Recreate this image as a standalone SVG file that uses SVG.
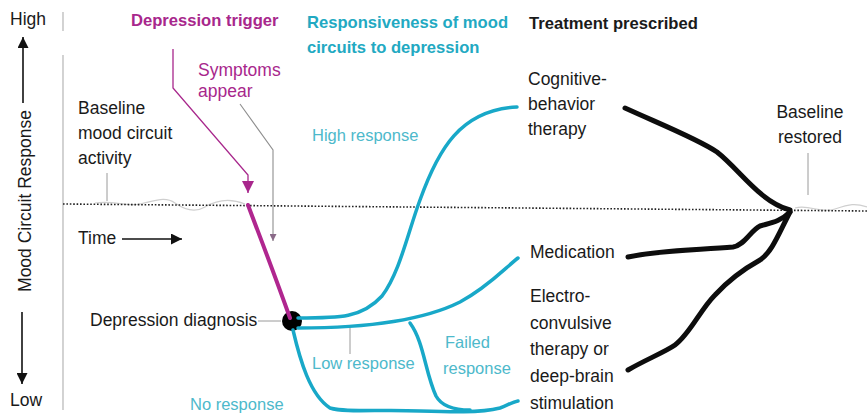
<svg xmlns="http://www.w3.org/2000/svg" width="867" height="417" viewBox="0 0 867 417">
<style>
text{font-family:"Liberation Sans","Noto Sans",Arial,sans-serif;font-size:17.5px;fill:#1a1a1a}
.b{font-weight:bold;font-size:16.6px}
.mag{fill:#a8278c}
.cyt{fill:#22a9c2}
.cyl{fill:#4db9cb;font-size:16.5px}
.cy{fill:none;stroke:#18a8c8;stroke-width:3.5;stroke-linecap:round;stroke-linejoin:round}
.bk{fill:none;stroke:#0d0d0d;stroke-width:5;stroke-linecap:round;stroke-linejoin:round}
.lead{fill:none;stroke:#9a9a9a;stroke-width:1}
.ax{fill:none;stroke:#111;stroke-width:1.6}
.wave{fill:none;stroke:#cfcfcf;stroke-width:1.2}
</style>
<defs>
<marker id="ahk" viewBox="0 0 10 10" refX="10" refY="5" markerWidth="11" markerHeight="11" markerUnits="userSpaceOnUse" orient="auto"><path d="M0,0 L10,5 L0,10 z" fill="#111"/></marker>
<marker id="ahm" viewBox="0 0 10 10" refX="10" refY="5" markerWidth="12" markerHeight="12" markerUnits="userSpaceOnUse" orient="auto"><path d="M0,0 L10,5 L0,10 z" fill="#a8278c"/></marker>
<marker id="ahg" viewBox="0 0 10 10" refX="10" refY="5" markerWidth="7" markerHeight="7" markerUnits="userSpaceOnUse" orient="auto"><path d="M0,0 L10,5 L0,10 z" fill="#8a6a88"/></marker>
</defs>
<rect width="867" height="417" fill="#ffffff"/>

<g id="axis">
<text x="10" y="25">High</text>
<text x="10" y="406">Low</text>
<line class="ax" x1="23" y1="103" x2="23" y2="37" marker-end="url(#ahk)"/>
<line class="ax" x1="22" y1="312" x2="22" y2="384" marker-end="url(#ahk)"/>
<text transform="translate(31,201) rotate(-90)" text-anchor="middle">Mood Circuit Response</text>
<line stroke="#b5b5b5" stroke-width="1.2" x1="63" y1="12" x2="63" y2="31"/>
<line stroke="#b5b5b5" stroke-width="1.2" x1="63" y1="55" x2="63" y2="410"/>
</g>

<g id="baseline">
<path class="wave" d="M95,203 C115,200 125,207 140,204 S165,196 175,203 S195,213 205,207 S228,197 245,204"/>
<path class="wave" d="M795,208 C810,204 820,214 835,209 S855,203 867,207"/>
<line x1="63" y1="204" x2="867" y2="211" stroke="#222" stroke-width="1.6" stroke-dasharray="1.6 1.8"/>
</g>

<g id="baseline-label">
<text x="78" y="114">Baseline</text>
<text x="78" y="139">mood circuit</text>
<text x="78" y="164">activity</text>
</g>

<g id="time-label">
<text x="78" y="244">Time</text>
</g>

<g id="trigger-label">
<text class="b mag" x="131" y="26">Depression trigger</text>
</g>

<g id="symptoms-label">
<text class="mag" x="198" y="76">Symptoms</text>
<text class="mag" x="198" y="97">appear</text>
</g>

<g id="diagnosis">
<text x="90" y="326">Depression diagnosis</text>
<circle cx="292" cy="321" r="10" fill="#000"/>
</g>

<g id="responsiveness-title">
<text class="b cyt" x="307" y="28">Responsiveness of mood</text>
<text class="b cyt" x="307" y="53">circuits to depression</text>
</g>

<g id="high-response"><text class="cyl" x="312" y="141">High response</text></g>
<g id="low-response"><text class="cyl" x="312" y="369">Low response</text></g>
<g id="failed-response">
<text class="cyl" x="445" y="348">Failed</text>
<text class="cyl" x="443" y="374">response</text>
</g>
<g id="no-response"><text class="cyl" x="190" y="410">No response</text></g>

<g id="treatment-title"><text class="b" x="529" y="29">Treatment prescribed</text></g>
<g id="cbt">
<text x="528" y="85">Cognitive-</text>
<text x="528" y="110">behavior</text>
<text x="528" y="135">therapy</text>
</g>
<g id="medication"><text x="530" y="258">Medication</text></g>
<g id="ect">
<text x="530" y="302">Electro-</text>
<text x="530" y="329">convulsive</text>
<text x="530" y="355">therapy or</text>
<text x="530" y="382">deep-brain</text>
<text x="530" y="409">stimulation</text>
</g>
<g id="restored">
<text x="810" y="118" text-anchor="middle">Baseline</text>
<text x="810" y="143" text-anchor="middle">restored</text>
</g>

<g id="connectors">
<!-- leaders -->
<line class="lead" x1="107" y1="173" x2="107" y2="201"/>
<line class="lead" x1="258" y1="321" x2="281" y2="321"/>
<line class="lead" x1="350" y1="328" x2="350" y2="354"/>
<line class="lead" x1="808" y1="153" x2="808" y2="195"/>
<line class="ax" x1="122" y1="239" x2="182" y2="239" marker-end="url(#ahk)"/>
<path d="M173,49 L173,88 L248,175 L248,193" fill="none" stroke="#a8278c" stroke-width="1.3" marker-end="url(#ahm)"/>
<path d="M240,104 L273,150 L273,241" fill="none" stroke="#8f8f8f" stroke-width="1.1" marker-end="url(#ahg)"/>
<!-- depression drop -->
<path d="M248,205 C258,232 270,262 290,318" fill="none" stroke="#b0268f" stroke-width="4" stroke-linecap="round"/>
<!-- cyan responses -->
<path class="cy" d="M298,318 C340,318 362,318 382,296 C400,272 408,232 420,200 C438,150 460,110 517,107"/>
<path class="cy" d="M298,328 C360,328 420,322 460,302 C488,287 505,268 518,258"/>
<path class="cy" d="M410,323 C424,342 425,372 436,396 C442,407 455,410 470,410"/>
<path class="cy" d="M293,330 C300,360 310,395 330,408 C345,413 380,409 420,411 C450,412 480,413 500,408 C508,405 512,402 518,401"/>
<!-- black treatments -->
<path class="bk" d="M625,108 C660,124 698,139 717,152 C740,170 760,202 790,210"/>
<path class="bk" d="M628,257 C660,250 700,250 733,247 C745,245 750,231 760,226 C770,223 780,222 790,212"/>
<path class="bk" d="M628,370 C645,360 665,352 675,345 C690,334 700,310 715,295 C726,283 742,270 760,260 C772,252 778,235 790,212"/>
</g>
</svg>
